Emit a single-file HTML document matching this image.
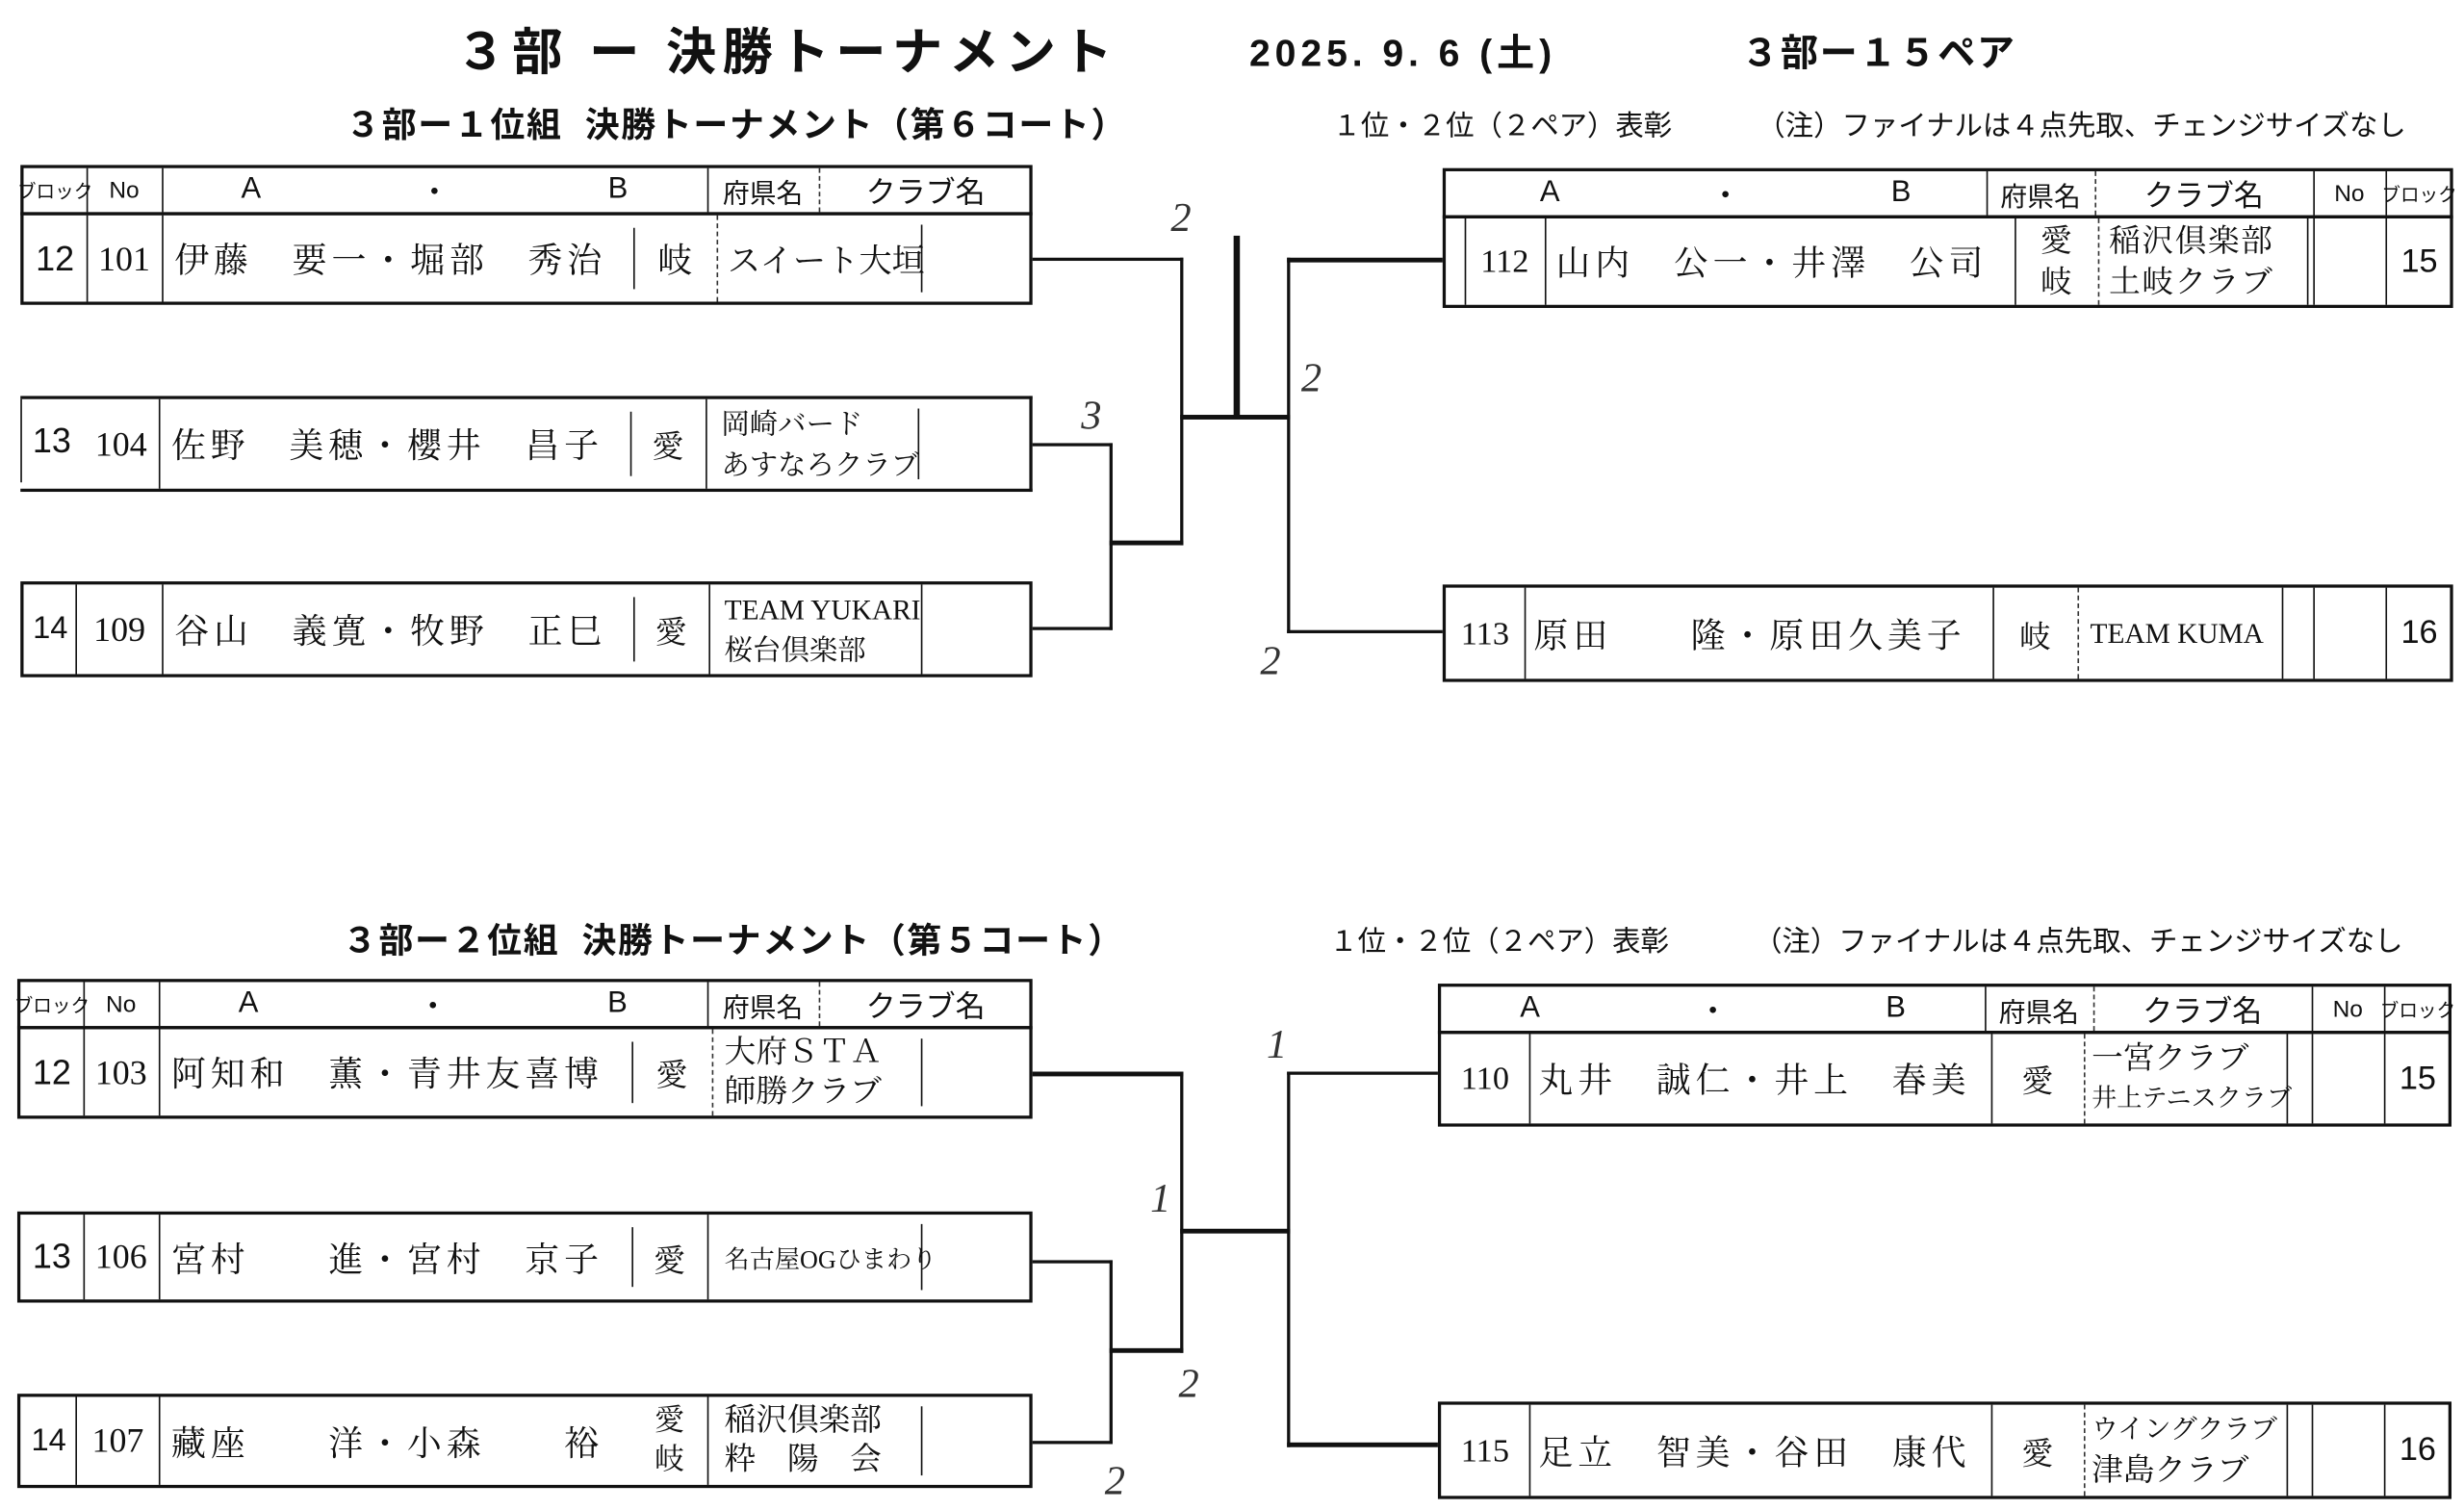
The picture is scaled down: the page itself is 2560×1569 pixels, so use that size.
<!DOCTYPE html>
<html><head><meta charset="utf-8"><style>
html,body{margin:0;padding:0;background:#fff;width:2560px;height:1569px;overflow:hidden}
#w{position:absolute;left:0;top:0;width:1568px;height:961px;transform:scale(1.6327);transform-origin:0 0;font-family:"Liberation Sans","Noto Sans CJK JP",sans-serif;color:#111}
.a{position:absolute;white-space:nowrap}
.h{position:absolute;background:#111}
.b{font-weight:bold}
.m{font-family:"Liberation Serif","Noto Serif CJK JP",serif}
.n{letter-spacing:3px}
.tb{position:absolute;border:2px solid #111;box-sizing:border-box}
.vl{position:absolute;top:0;bottom:0;width:0;border-left:1.5px solid #111}
.dl{position:absolute;top:0;bottom:0;width:0;border-left:1.5px dashed #333}
.c{position:absolute;top:0;bottom:0;display:flex;align-items:center;justify-content:center;white-space:nowrap}
.hw{position:absolute;font-family:"Liberation Serif",serif;font-size:26px;color:#333;font-style:italic}
</style></head><body><div id="w">

<div class="a b" style="left:290px;top:8px;font-size:32px;letter-spacing:4px">３部 ー 決勝トーナメント</div>
<div class="a b" style="left:795px;top:14px;font-size:24px;letter-spacing:3px">2025. 9. 6 (土)</div>
<div class="a b" style="left:1108px;top:14px;font-size:24px;letter-spacing:1px">３部ー１５ペア</div>

<!-- TOP SECTION -->
<div class="a b" style="left:220px;top:62px;font-size:22px;letter-spacing:1px">３部ー１位組&nbsp;&nbsp;決勝トーナメント（第６コート）</div>
<div class="a" style="left:848px;top:66px;font-size:18px">１位・２位（２ペア）表彰</div>
<div class="a" style="left:1118px;top:66px;font-size:18px">（注）ファイナルは４点先取、チェンジサイズなし</div>

<div class="tb" style="left:13px;top:105px;width:644px;height:32px">
 <div class="vl" style="left:40px"></div><div class="vl" style="left:88px"></div><div class="vl" style="left:435px"></div><div class="dl" style="left:506px"></div>
 <div class="c" style="left:0;width:40px;font-size:12px">ブロック</div><div class="c" style="left:40px;width:48px;font-size:15px">No</div>
 <div class="c" style="left:88px;width:347px;font-size:19px;justify-content:space-around">A<span>・</span>B</div>
 <div class="c" style="left:435px;width:71px;font-size:17px">府県名</div><div class="c" style="left:506px;width:136px;font-size:19px">クラブ名</div>
</div>
<div class="tb" style="left:13px;top:135px;width:644px;height:59px">
 <div class="vl" style="left:40px"></div><div class="vl" style="left:88px"></div><div class="vl" style="left:388px;top:8px;bottom:8px"></div><div class="dl" style="left:441px"></div><div class="vl" style="left:571px;top:6px;bottom:6px"></div>
 <div class="c" style="left:0;width:40px;font-size:22px">12</div><div class="c m" style="left:40px;width:48px;font-size:22px">101</div>
 <div class="c m n" style="left:96px;font-size:22px">伊藤　要一・堀部　秀治</div>
 <div class="c m" style="left:388px;width:53px;font-size:22px">岐</div><div class="c m" style="left:448px;font-size:21px">スイート大垣</div>
</div>
<div class="tb" style="left:13px;top:252px;width:644px;height:61px;border-left:none">
 <div class="vl" style="left:88px"></div><div class="vl" style="left:388px;top:8px;bottom:8px"></div><div class="vl" style="left:436px"></div><div class="vl" style="left:571px;top:6px;bottom:6px"></div>
 <div class="vl" style="left:0;bottom:4px"></div>
 <div class="c" style="left:0;width:40px;font-size:22px;align-items:flex-start;padding-top:14px">13</div><div class="c m" style="left:40px;width:48px;font-size:22px">104</div>
 <div class="c m n" style="left:96px;font-size:22px">佐野　美穂・櫻井　昌子</div>
 <div class="c m" style="left:388px;width:48px;font-size:20px">愛</div>
 <div class="c m" style="left:446px;font-size:18px;flex-direction:column;line-height:26px;align-items:flex-start">岡崎バード<br>あすなろクラブ</div>
</div>
<div class="tb" style="left:13px;top:370px;width:644px;height:61px">
 <div class="vl" style="left:33px"></div><div class="vl" style="left:88px"></div><div class="vl" style="left:388px;top:8px;bottom:8px"></div><div class="vl" style="left:436px"></div><div class="vl" style="left:571px"></div>
 <div class="c" style="left:0;width:34px;font-size:20px">14</div><div class="c m" style="left:34px;width:54px;font-size:22px">109</div>
 <div class="c m n" style="left:96px;font-size:22px">谷山　義寛・牧野　正巳</div>
 <div class="c m" style="left:388px;width:48px;font-size:20px">愛</div>
 <div class="c m" style="left:446px;font-size:18px;flex-direction:column;line-height:26px;align-items:flex-start">TEAM YUKARI<br>桜台倶楽部</div>
</div>

<div class="tb" style="left:918px;top:107px;width:643px;height:32px">
 <div class="vl" style="left:344px"></div><div class="dl" style="left:413px"></div><div class="vl" style="left:552px"></div><div class="vl" style="left:598px"></div>
 <div class="c" style="left:12px;width:332px;font-size:19px;justify-content:space-around">A<span>・</span>B</div>
 <div class="c" style="left:344px;width:69px;font-size:17px">府県名</div><div class="c" style="left:413px;width:139px;font-size:19px">クラブ名</div>
 <div class="c" style="left:552px;width:46px;font-size:15px">No</div><div class="c" style="left:598px;width:43px;font-size:12px">ブロック</div>
</div>
<div class="tb" style="left:918px;top:137px;width:643px;height:59px">
 <div class="vl" style="left:12px"></div><div class="vl" style="left:63px"></div><div class="vl" style="left:362px"></div><div class="dl" style="left:415px"></div><div class="vl" style="left:548px"></div><div class="vl" style="left:552px"></div><div class="vl" style="left:598px"></div>
 <div class="c m" style="left:12px;width:51px;font-size:21px">112</div>
 <div class="c m n" style="left:70px;font-size:22px">山内　公一・井澤　公司</div>
 <div class="c m" style="left:362px;width:53px;font-size:20px;flex-direction:column;line-height:26px">愛<br>岐</div>
 <div class="c m" style="left:422px;font-size:20px;flex-direction:column;line-height:26px;align-items:flex-start;letter-spacing:1px">稲沢倶楽部<br>土岐クラブ</div>
 <div class="c" style="left:598px;width:43px;font-size:21px">15</div>
</div>
<div class="tb" style="left:918px;top:372px;width:643px;height:62px">
 <div class="vl" style="left:50px"></div><div class="vl" style="left:348px"></div><div class="dl" style="left:402px"></div><div class="vl" style="left:532px"></div><div class="vl" style="left:552px"></div><div class="vl" style="left:598px"></div>
 <div class="c m" style="left:0;width:50px;font-size:21px">113</div>
 <div class="c m n" style="left:56px;font-size:22px">原田　　隆・原田久美子</div>
 <div class="c m" style="left:348px;width:54px;font-size:20px">岐</div>
 <div class="c m" style="left:410px;font-size:18px">TEAM KUMA</div>
 <div class="c" style="left:598px;width:43px;font-size:21px">16</div>
</div>

<div class="h" style="left:657px;top:164px;width:96px;height:2px"></div>
<div class="h" style="left:751px;top:164px;width:2px;height:183px"></div>
<div class="h" style="left:657px;top:282px;width:51px;height:2px"></div>
<div class="h" style="left:657px;top:399px;width:51px;height:2px"></div>
<div class="h" style="left:706px;top:282px;width:2px;height:119px"></div>
<div class="h" style="left:706px;top:344px;width:47px;height:3px"></div>
<div class="h" style="left:751px;top:264px;width:70px;height:3px"></div>
<div class="h" style="left:785px;top:150px;width:4px;height:116px"></div>
<div class="h" style="left:819px;top:164px;width:2px;height:239px"></div>
<div class="h" style="left:819px;top:164px;width:99px;height:3px"></div>
<div class="h" style="left:819px;top:401px;width:99px;height:2px"></div>
<div class="hw" style="left:745px;top:124px">2</div>
<div class="hw" style="left:688px;top:250px">3</div>
<div class="hw" style="left:828px;top:226px">2</div>
<div class="hw" style="left:802px;top:406px">2</div>

<!-- BOTTOM SECTION -->
<div class="a b" style="left:218px;top:581px;font-size:22px;letter-spacing:1px">３部ー２位組&nbsp;&nbsp;決勝トーナメント（第５コート）</div>
<div class="a" style="left:846px;top:585px;font-size:18px">１位・２位（２ペア）表彰</div>
<div class="a" style="left:1116px;top:585px;font-size:18px">（注）ファイナルは４点先取、チェンジサイズなし</div>

<div class="tb" style="left:11px;top:623px;width:646px;height:32px">
 <div class="vl" style="left:40px"></div><div class="vl" style="left:88px"></div><div class="vl" style="left:437px"></div><div class="dl" style="left:508px"></div>
 <div class="c" style="left:0;width:40px;font-size:12px">ブロック</div><div class="c" style="left:40px;width:48px;font-size:15px">No</div>
 <div class="c" style="left:88px;width:349px;font-size:19px;justify-content:space-around">A<span>・</span>B</div>
 <div class="c" style="left:437px;width:71px;font-size:17px">府県名</div><div class="c" style="left:508px;width:136px;font-size:19px">クラブ名</div>
</div>
<div class="tb" style="left:11px;top:653px;width:646px;height:59px">
 <div class="vl" style="left:40px"></div><div class="vl" style="left:88px"></div><div class="vl" style="left:389px;top:8px;bottom:8px"></div><div class="dl" style="left:440px"></div><div class="vl" style="left:573px;top:6px;bottom:6px"></div>
 <div class="c" style="left:0;width:40px;font-size:22px">12</div><div class="c m" style="left:40px;width:48px;font-size:22px">103</div>
 <div class="c m n" style="left:96px;font-size:22px">阿知和　薫・青井友喜博</div>
 <div class="c m" style="left:389px;width:51px;font-size:20px">愛</div>
 <div class="c m" style="left:448px;font-size:20px;flex-direction:column;line-height:25px;align-items:flex-start">大府ＳＴＡ<br>師勝クラブ</div>
</div>
<div class="tb" style="left:11px;top:771px;width:646px;height:58px">
 <div class="vl" style="left:40px"></div><div class="vl" style="left:88px"></div><div class="vl" style="left:389px;top:8px;bottom:8px"></div><div class="vl" style="left:437px"></div><div class="vl" style="left:573px;top:6px;bottom:6px"></div>
 <div class="c" style="left:0;width:40px;font-size:22px">13</div><div class="c m" style="left:40px;width:48px;font-size:22px">106</div>
 <div class="c m n" style="left:96px;font-size:22px">宮村　　進・宮村　京子</div>
 <div class="c m" style="left:389px;width:48px;font-size:20px">愛</div>
 <div class="c m" style="left:448px;font-size:16px">名古屋OGひまわり</div>
</div>
<div class="tb" style="left:11px;top:887px;width:646px;height:60px">
 <div class="vl" style="left:35px"></div><div class="vl" style="left:88px"></div><div class="vl" style="left:437px"></div><div class="vl" style="left:573px;top:6px;bottom:6px"></div>
 <div class="c" style="left:0;width:36px;font-size:20px">14</div><div class="c m" style="left:36px;width:52px;font-size:22px">107</div>
 <div class="c m n" style="left:96px;font-size:22px">藏座　　洋・小森　　裕</div>
 <div class="c m" style="left:389px;width:48px;font-size:19px;flex-direction:column;line-height:25px">愛<br>岐</div>
 <div class="c m" style="left:448px;font-size:20px;flex-direction:column;line-height:25px;align-items:flex-start">稲沢倶楽部<br>粋　陽　会</div>
</div>

<div class="tb" style="left:915px;top:626px;width:645px;height:32px">
 <div class="vl" style="left:346px"></div><div class="dl" style="left:415px"></div><div class="vl" style="left:554px"></div><div class="vl" style="left:600px"></div>
 <div class="c" style="left:0;width:346px;font-size:19px;justify-content:space-around">A<span>・</span>B</div>
 <div class="c" style="left:346px;width:69px;font-size:17px">府県名</div><div class="c" style="left:415px;width:139px;font-size:19px">クラブ名</div>
 <div class="c" style="left:554px;width:46px;font-size:15px">No</div><div class="c" style="left:600px;width:43px;font-size:12px">ブロック</div>
</div>
<div class="tb" style="left:915px;top:656px;width:645px;height:61px">
 <div class="vl" style="left:56px"></div><div class="vl" style="left:350px"></div><div class="dl" style="left:409px"></div><div class="vl" style="left:538px"></div><div class="vl" style="left:554px"></div><div class="vl" style="left:600px"></div>
 <div class="c m" style="left:0;width:56px;font-size:21px">110</div>
 <div class="c m n" style="left:62px;font-size:22px">丸井　誠仁・井上　春美</div>
 <div class="c m" style="left:350px;width:59px;font-size:20px">愛</div>
 <div class="c m" style="left:414px;font-size:20px;flex-direction:column;line-height:26px;align-items:flex-start">一宮クラブ<br><span style="font-size:16px">井上テニスクラブ</span></div>
 <div class="c" style="left:600px;width:43px;font-size:21px">15</div>
</div>
<div class="tb" style="left:915px;top:892px;width:645px;height:62px">
 <div class="vl" style="left:56px"></div><div class="vl" style="left:350px"></div><div class="dl" style="left:409px"></div><div class="vl" style="left:538px"></div><div class="vl" style="left:554px"></div><div class="vl" style="left:600px"></div>
 <div class="c m" style="left:0;width:56px;font-size:21px">115</div>
 <div class="c m n" style="left:62px;font-size:22px">足立　智美・谷田　康代</div>
 <div class="c m" style="left:350px;width:59px;font-size:20px">愛</div>
 <div class="c m" style="left:414px;font-size:17px;flex-direction:column;line-height:26px;align-items:flex-start">ウイングクラブ<br><span style="font-size:20px">津島クラブ</span></div>
 <div class="c" style="left:600px;width:43px;font-size:21px">16</div>
</div>

<div class="h" style="left:657px;top:682px;width:96px;height:3px"></div>
<div class="h" style="left:751px;top:682px;width:2px;height:179px"></div>
<div class="h" style="left:657px;top:802px;width:51px;height:2px"></div>
<div class="h" style="left:657px;top:917px;width:51px;height:2px"></div>
<div class="h" style="left:706px;top:802px;width:2px;height:117px"></div>
<div class="h" style="left:706px;top:858px;width:47px;height:3px"></div>
<div class="h" style="left:751px;top:782px;width:70px;height:3px"></div>
<div class="h" style="left:819px;top:682px;width:2px;height:239px"></div>
<div class="h" style="left:819px;top:682px;width:96px;height:2px"></div>
<div class="h" style="left:819px;top:918px;width:96px;height:3px"></div>
<div class="hw" style="left:806px;top:650px">1</div>
<div class="hw" style="left:732px;top:748px">1</div>
<div class="hw" style="left:750px;top:866px">2</div>
<div class="hw" style="left:703px;top:928px">2</div>

</div></body></html>
